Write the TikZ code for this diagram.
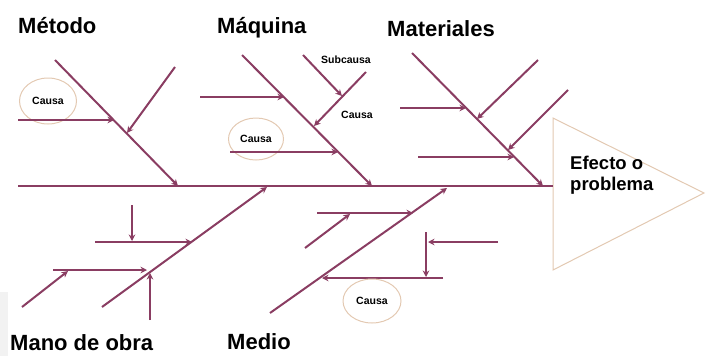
\documentclass[tikz,border=0pt]{standalone}
\usepackage{fontspec}
\setmainfont{Liberation Sans}
\usetikzlibrary{arrows.meta,shapes.geometric}
\definecolor{bone}{HTML}{8A3D62}
\definecolor{rim}{HTML}{E3C9B2}

\begin{document}
\begin{tikzpicture}[x=1pt, y=-1pt,
  title/.style={font=\bfseries\fontsize{22}{24}\selectfont, inner sep=0pt, anchor=base west},
  note/.style={font=\bfseries\fontsize{10.5}{12}\selectfont, inner sep=0pt},
  oval/.style={draw=rim, line width=1pt, ellipse, inner sep=0pt, font=\bfseries\fontsize{10.5}{12}\selectfont},
  ln/.style={draw=bone, line width=2pt},
  ar/.style={ln, -{Stealth[length=6.5pt,width=6.5pt]}}
]
\useasboundingbox (0,0) rectangle (706,356);
\fill[gray!10] (0,292) rectangle (8,356);

% head and spine
\coordinate (t1) at (553,118);
\coordinate (t2) at (704,193);
\coordinate (t3) at (553,270);
\draw[draw=rim, line width=1pt, fill=white] (t1) -- (t2) -- (t3) -- cycle;
\node[anchor=base west, inner sep=0pt, align=left, font=\bfseries\fontsize{18.5}{20.5}\selectfont] (eff) at (570,190) {Efecto o\\problema};
\coordinate (tail) at (18,186);
\coordinate (head) at (553,186);
\draw[ln] (tail) -- (head);

% titles
\node[title] (met) at (18,33) {Método};
\node[title] (maq) at (217,33) {Máquina};
\node[title] (mat) at (387,36) {Materiales};
\node[title] (mano) at (10,350) {Mano de obra};
\node[title] (med) at (227,349) {Medio};

% Metodo
\coordinate (m0) at (55,60);
\coordinate (m1) at (178,186);
\draw[ar] (m0) -- (m1);
\node[oval, minimum width=57pt, minimum height=46pt] (c1) at (48,101) {Causa};
\coordinate (m2) at (18,120);
\coordinate (m3) at (114,120);
\draw[ar] (m2) -- (m3);
\coordinate (m4) at (175,67);
\coordinate (m5) at (127,133);
\draw[ar] (m4) -- (m5);

% Maquina
\coordinate (q0) at (242,55);
\coordinate (q1) at (372,186);
\draw[ar] (q0) -- (q1);
\coordinate (q2) at (200,97);
\coordinate (q3) at (284,97);
\draw[ar] (q2) -- (q3);
\node[oval, minimum width=55pt, minimum height=42pt] (c2) at (256,139) {Causa};
\coordinate (q4) at (230,152);
\coordinate (q5) at (338,152);
\draw[ar] (q4) -- (q5);
\coordinate (q6) at (366,72);
\coordinate (q7) at (314,126);
\draw[ar] (q6) -- (q7);
\coordinate (q8) at (303,55);
\coordinate (q9) at (342,96);
\draw[ar] (q8) -- (q9);
\node[note] (sub) at (346,60) {Subcausa};
\node[note] (cq) at (357,115) {Causa};

% Materiales
\coordinate (a0) at (412,53);
\coordinate (a1) at (543,186);
\draw[ar] (a0) -- (a1);
\coordinate (a2) at (400,108);
\coordinate (a3) at (466,108);
\draw[ar] (a2) -- (a3);
\coordinate (a4) at (538,60);
\coordinate (a5) at (477,119);
\draw[ar] (a4) -- (a5);
\coordinate (a6) at (568,90);
\coordinate (a7) at (508,150);
\draw[ar] (a6) -- (a7);
\coordinate (a8) at (418,157);
\coordinate (a9) at (514,157);
\draw[ar] (a8) -- (a9);

% Mano de obra
\coordinate (o0) at (102,307);
\coordinate (o1) at (267,187);
\draw[ar] (o0) -- (o1);
\coordinate (o2) at (95,242);
\coordinate (o3) at (192,242);
\draw[ar] (o2) -- (o3);
\coordinate (o4) at (132,205);
\coordinate (o5) at (132,241);
\draw[ar] (o4) -- (o5);
\coordinate (o6) at (53,270);
\coordinate (o7) at (147,270);
\draw[ar] (o6) -- (o7);
\coordinate (o8) at (22,307);
\coordinate (o9) at (68,271);
\draw[ar] (o8) -- (o9);
\coordinate (o10) at (150,320);
\coordinate (o11) at (150,273);
\draw[ar] (o10) -- (o11);

% Medio
\coordinate (d0) at (270,313);
\coordinate (d1) at (447,188);
\draw[ar] (d0) -- (d1);
\coordinate (d2) at (317,213);
\coordinate (d3) at (413,213);
\draw[ar] (d2) -- (d3);
\coordinate (d4) at (305,248);
\coordinate (d5) at (350,214);
\draw[ar] (d4) -- (d5);
\coordinate (d6) at (426,232);
\coordinate (d7) at (426,277);
\draw[ar] (d6) -- (d7);
\coordinate (d8) at (498,242);
\coordinate (d9) at (428,242);
\draw[ar] (d8) -- (d9);
\coordinate (d10) at (443,278);
\coordinate (d11) at (322,278);
\draw[ar] (d10) -- (d11);
\node[oval, minimum width=58pt, minimum height=44pt] (c3) at (372,301) {Causa};
\end{tikzpicture}
\end{document}
